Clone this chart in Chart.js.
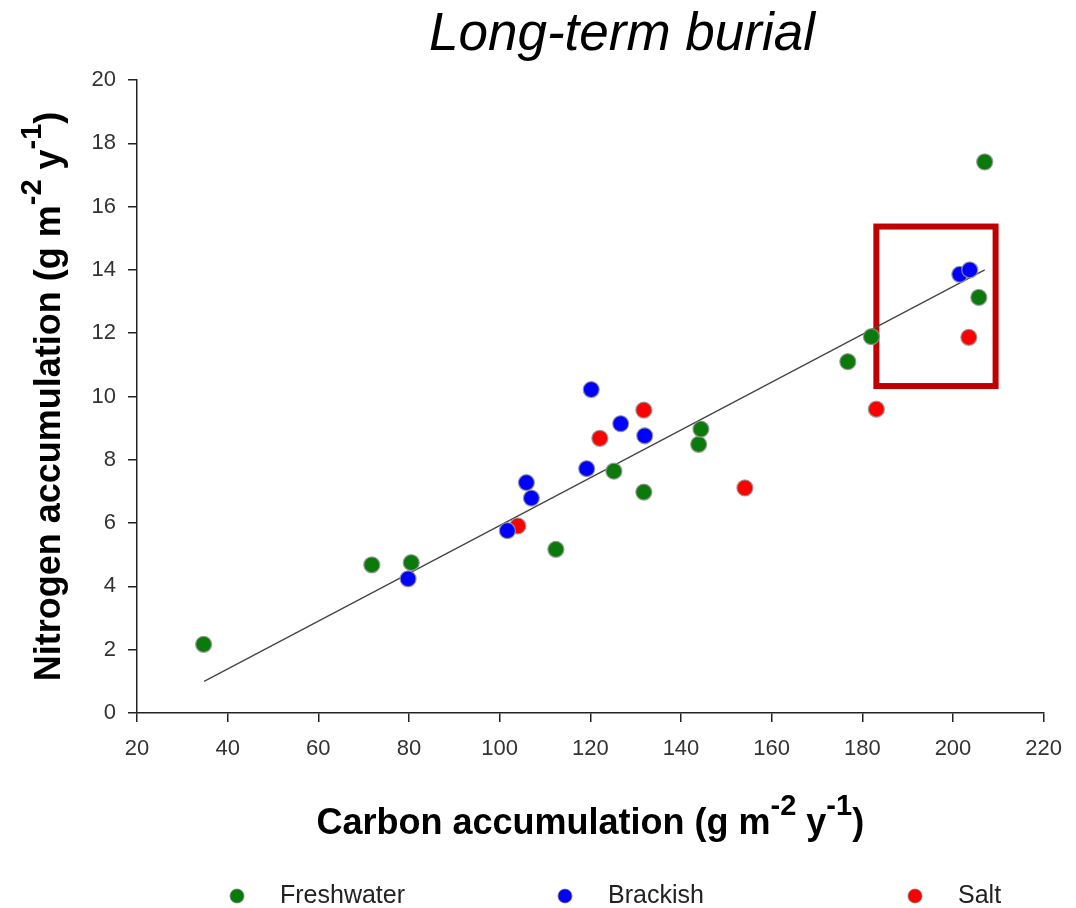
<!DOCTYPE html>
<html>
<head>
<meta charset="utf-8">
<script src="https://cdn.jsdelivr.net/npm/chart.js@4"></script>
<style>
  html, body { margin: 0; padding: 0; background: #fff; }
  #wrap { width: 1076px; height: 908px; }
</style>
</head>
<body>
<div id="wrap"><canvas id="scatterChart" width="1076" height="908"></canvas></div>
<script>
// carbon (x) and nitrogen (y) accumulation
var freshC = [34.7, 71.8, 80.5, 112.4, 125.2, 131.8, 143.9, 144.4, 176.8, 182.0, 205.7, 207.0];
var freshN = [2.17, 4.68, 4.75, 5.17, 7.64, 6.98, 8.49, 8.97, 11.10, 11.89, 13.13, 17.41];
var brackC = [79.8, 101.7, 105.9, 107.0, 119.2, 120.2, 126.7, 132.0, 201.5, 203.7];
var brackN = [4.24, 5.76, 7.28, 6.79, 7.72, 10.22, 9.14, 8.76, 13.86, 14.00];
var saltC = [104.0, 122.1, 131.8, 154.1, 183.1, 203.5];
var saltN = [5.91, 8.68, 9.57, 7.11, 9.60, 11.87];

// regression line end points
var fitC = [34.8, 207.0];
var fitN = [1.0, 14.0];

// highlighted region (data units)
var boxC = [183.1, 209.4];
var boxN = [10.33, 15.37];

var xTicks = [20, 40, 60, 80, 100, 120, 140, 160, 180, 200, 220];
var yTicks = [0, 2, 4, 6, 8, 10, 12, 14, 16, 18, 20];

var seriesNames = ['Freshwater', 'Brackish', 'Salt'];
var seriesColors = ['#0a7a0a', '#0000ff', '#ff0000'];

var FONT = '"Liberation Sans", Arial, sans-serif';

function pairs(xs, ys) {
	var out = [];
	for (var i = 0; i < xs.length; i++) out.push({x: xs[i], y: ys[i]});
	return out;
}

// draws text with raised superscript pieces, centred on (cx, cy)
function drawSupText(ctx, parts, cx, cy, size, angle) {
	var supSize = Math.round(size * 0.8);
	var total = 0;
	parts.forEach(function(p) {
		ctx.font = 'bold ' + (p.sup ? supSize : size) + 'px ' + FONT;
		p.w = ctx.measureText(p.t).width;
		total += p.w;
	});
	ctx.save();
	ctx.translate(cx, cy);
	ctx.rotate(angle);
	ctx.fillStyle = '#000';
	ctx.textBaseline = 'alphabetic';
	ctx.textAlign = 'left';
	var x = -total / 2;
	parts.forEach(function(p) {
		ctx.font = 'bold ' + (p.sup ? supSize : size) + 'px ' + FONT;
		ctx.fillText(p.t, x, p.sup ? size * 0.35 - size * 0.52 : size * 0.35);
		x += p.w;
	});
	ctx.restore();
}

var extras = {
	id: 'extras',
	beforeDatasetsDraw: function(chart) {
		var ctx = chart.ctx, xs = chart.scales.x, ys = chart.scales.y;
		var x0 = xs.getPixelForValue(boxC[0]), x1 = xs.getPixelForValue(boxC[1]);
		var y0 = ys.getPixelForValue(boxN[1]), y1 = ys.getPixelForValue(boxN[0]);
		ctx.save();
		ctx.strokeStyle = '#c00000';
		ctx.lineWidth = 6;
		ctx.strokeRect(x0, y0, x1 - x0, y1 - y0);
		ctx.restore();
	},
	afterDraw: function(chart) {
		var ctx = chart.ctx, area = chart.chartArea;
		ctx.save();
		// title
		ctx.font = 'italic 53px ' + FONT;
		ctx.fillStyle = '#000';
		ctx.textAlign = 'center';
		ctx.textBaseline = 'alphabetic';
		ctx.fillText('Long-term burial', 622, 50);
		ctx.restore();

		var midX = (area.left + area.right) / 2;
		var midY = (area.top + area.bottom) / 2;
		drawSupText(ctx, [
			{t: 'Carbon accumulation (g m'}, {t: '-2', sup: true},
			{t: ' y'}, {t: '-1', sup: true}, {t: ')'}
		], midX, 821, 36, 0);
		drawSupText(ctx, [
			{t: 'Nitrogen accumulation (g m'}, {t: '-2', sup: true},
			{t: ' y'}, {t: '-1', sup: true}, {t: ')'}
		], 47, midY, 36, -Math.PI / 2);

		// legend
		var dotX = [237, 565, 915];
		ctx.save();
		ctx.font = '25px ' + FONT;
		ctx.textBaseline = 'middle';
		ctx.textAlign = 'left';
		for (var i = 0; i < seriesNames.length; i++) {
			ctx.beginPath();
			ctx.arc(dotX[i], 896, 7, 0, Math.PI * 2);
			ctx.fillStyle = seriesColors[i];
			ctx.fill();
			ctx.lineWidth = 1;
			ctx.strokeStyle = 'rgba(120,120,120,0.7)';
			ctx.stroke();
			ctx.fillStyle = '#222';
			ctx.fillText(seriesNames[i], dotX[i] + 43, 896);
		}
		ctx.restore();
	}
};

function pointSet(label, xs, ys, color) {
	return {
		label: label,
		data: pairs(xs, ys),
		backgroundColor: color,
		borderColor: 'rgba(150,150,150,0.85)',
		borderWidth: 1.3,
		pointRadius: 8,
		order: 1
	};
}

var ctx = document.getElementById('scatterChart').getContext('2d');

var scatterChart = new Chart(ctx, {
	type: 'scatter',
	data: {
		datasets: [
			{
				label: 'fit',
				data: pairs(fitC, fitN),
				showLine: true,
				borderColor: '#444',
				borderWidth: 1.3,
				pointRadius: 0,
				order: 5
			},
			pointSet(seriesNames[0], freshC, freshN, seriesColors[0]),
			pointSet(seriesNames[1], brackC, brackN, seriesColors[1]),
			pointSet(seriesNames[2], saltC, saltN, seriesColors[2])
		]
	},
	options: {
		responsive: false,
		animation: false,
		devicePixelRatio: 1,
		layout: { padding: { top: 80, right: 32, left: 0, bottom: 0 } },
		plugins: {
			legend: { display: false },
			title: { display: false },
			tooltip: { enabled: false }
		},
		scales: {
			x: {
				type: 'linear',
				min: xTicks[0],
				max: xTicks[xTicks.length - 1],
				afterBuildTicks: function(s) { s.ticks = xTicks.map(function(v) { return {value: v}; }); },
				afterFit: function(s) { s.height = 195; },
				ticks: { color: '#333', font: { family: FONT, size: 22 }, padding: 14, maxRotation: 0 },
				grid: { drawOnChartArea: false, drawTicks: true, tickLength: 9, color: '#222', lineWidth: 1.5 },
				border: { display: true, color: '#222', width: 1.5 }
			},
			y: {
				type: 'linear',
				min: yTicks[0],
				max: yTicks[yTicks.length - 1],
				afterBuildTicks: function(s) { s.ticks = yTicks.map(function(v) { return {value: v}; }); },
				afterFit: function(s) { s.width = 137; },
				ticks: { color: '#333', font: { family: FONT, size: 22 }, padding: 12 },
				grid: { drawOnChartArea: false, drawTicks: true, tickLength: 9, color: '#222', lineWidth: 1.5 },
				border: { display: true, color: '#222', width: 1.5 }
			}
		}
	},
	plugins: [extras]
});
</script>
</body>
</html>
